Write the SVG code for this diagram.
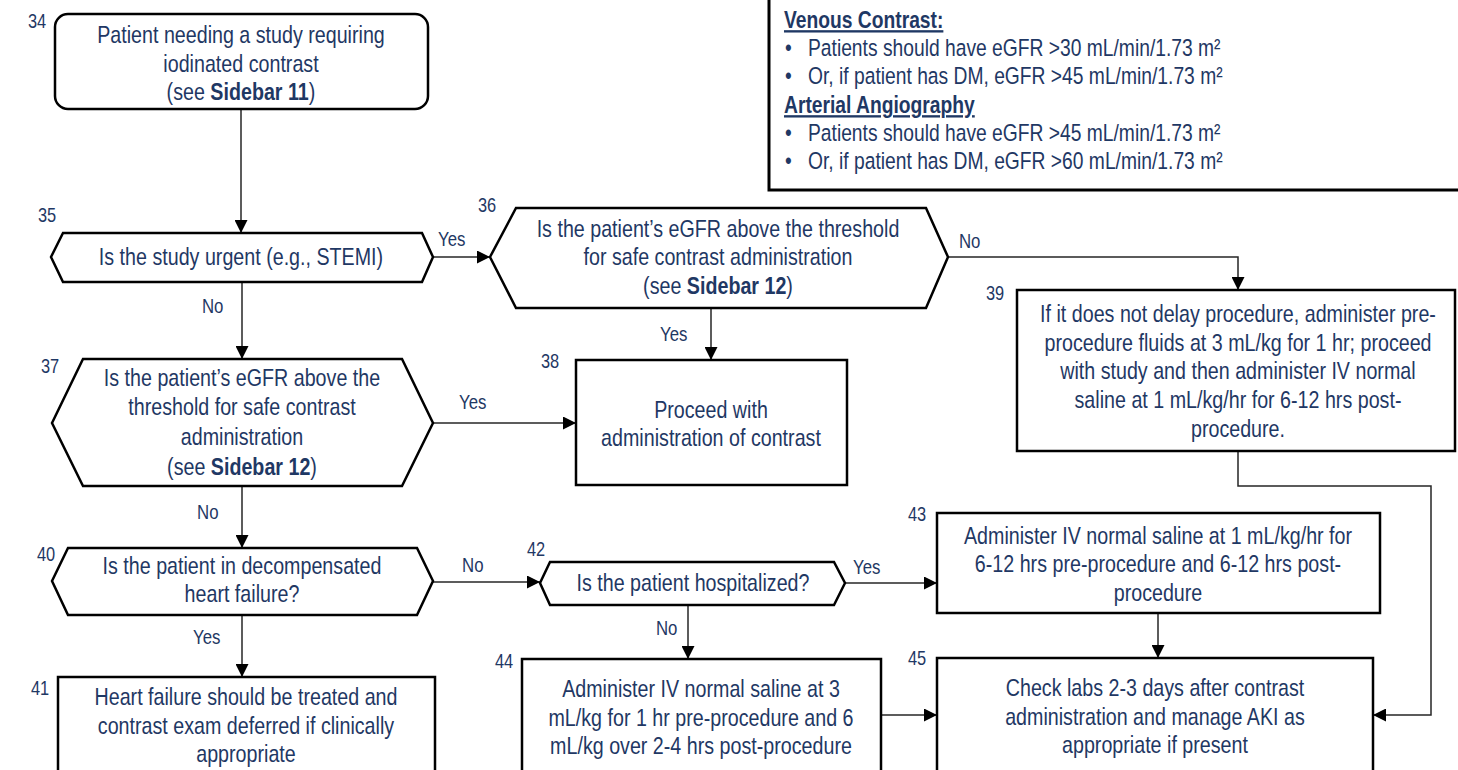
<svg xmlns="http://www.w3.org/2000/svg" width="1458" height="770" viewBox="0 0 1458 770">
  <style>
    .box { fill: #ffffff; stroke: #000000; stroke-width: 2.5; }
    .side { fill: #ffffff; stroke: #000000; stroke-width: 3; }
    .conn { fill: none; stroke: #262626; stroke-width: 1.5; }
    .arrow { marker-end: url(#head); }
    text { font-family: "Liberation Sans Narrow", "Liberation Sans", Arial, sans-serif; fill: #1f3864;
           transform-box: fill-box; transform: scaleX(0.82); }
    .t { font-size: 24px; text-anchor: middle; transform-origin: center; }
    .n { font-size: 20px; transform-origin: left center; }
    .l { font-size: 20.5px; transform-origin: left center; }
    .s { font-size: 23.5px; transform-origin: left center; }
    .h { font-size: 23.5px; font-weight: bold; text-decoration: underline; transform-origin: left center; }
    .b { font-weight: bold; }
  </style>
  <defs>
    <marker id="head" markerUnits="userSpaceOnUse" markerWidth="13" markerHeight="13" refX="13" refY="6.5" orient="auto">
      <path d="M0,0 L13,6.5 L0,13 Z" fill="#000000"/>
    </marker>
  </defs>

  <rect width="1458" height="770" fill="#ffffff"/>

  <!-- Sidebar 12: eGFR thresholds -->
  <g id="sidebar">
    <rect class="side" x="769" y="-10" width="700" height="200"/>
    <text class="h" x="784" y="28">Venous Contrast:</text>
    <text class="s" x="785" y="56">•</text>
    <text class="s" x="808" y="56">Patients should have eGFR &gt;30 mL/min/1.73 m²</text>
    <text class="s" x="785" y="84">•</text>
    <text class="s" x="808" y="84">Or, if patient has DM, eGFR &gt;45 mL/min/1.73 m²</text>
    <text class="h" x="784" y="113">Arterial Angiography</text>
    <text class="s" x="785" y="141">•</text>
    <text class="s" x="808" y="141">Patients should have eGFR &gt;45 mL/min/1.73 m²</text>
    <text class="s" x="785" y="169">•</text>
    <text class="s" x="808" y="169">Or, if patient has DM, eGFR &gt;60 mL/min/1.73 m²</text>
  </g>

  <!-- connectors -->
  <g id="connectors">
    <path class="conn arrow" d="M241,109 V233"/>
    <path class="conn arrow" d="M433,257 H490"/>
    <path class="conn arrow" d="M242,282 V359"/>
    <path class="conn arrow" d="M711,308 V360"/>
    <path class="conn arrow" d="M948,257 H1238 V290"/>
    <path class="conn arrow" d="M433,423 H576"/>
    <path class="conn arrow" d="M242,486 V548"/>
    <path class="conn arrow" d="M433,582 H540"/>
    <path class="conn arrow" d="M242,615 V677"/>
    <path class="conn arrow" d="M845,583 H937"/>
    <path class="conn arrow" d="M688,605 V659"/>
    <path class="conn arrow" d="M1158,613 V658"/>
    <path class="conn arrow" d="M881,715 H937"/>
    <path class="conn arrow" d="M1238,451 V486 H1431 V715 H1373"/>
    <text class="l" x="438" y="246">Yes</text>
    <text class="l" x="202" y="313">No</text>
    <text class="l" x="660" y="341">Yes</text>
    <text class="l" x="959" y="248">No</text>
    <text class="l" x="459" y="409">Yes</text>
    <text class="l" x="197" y="519">No</text>
    <text class="l" x="462" y="572">No</text>
    <text class="l" x="853" y="574">Yes</text>
    <text class="l" x="193" y="644">Yes</text>
    <text class="l" x="656" y="635">No</text>
  </g>

  <g id="node34">
    <rect class="box" x="55" y="14" width="373" height="95" rx="13"/>
    <text class="n" x="28" y="28">34</text>
    <text class="t" x="241" y="43">Patient needing a study requiring</text>
    <text class="t" x="241" y="72">iodinated contrast</text>
    <text class="t" x="241" y="100">(see <tspan class="b">Sidebar 11</tspan>)</text>
  </g>

  <g id="node35">
    <polygon class="box" points="51,257 63,233 422,233 433,257 422,282 63,282"/>
    <text class="n" x="38" y="222">35</text>
    <text class="t" x="241" y="265">Is the study urgent (e.g., STEMI)</text>
  </g>

  <g id="node36">
    <polygon class="box" points="490,257 516,208 926,208 948,257 926,308 516,308"/>
    <text class="n" x="478" y="212">36</text>
    <text class="t" x="718" y="237">Is the patient’s eGFR above the threshold</text>
    <text class="t" x="718" y="265">for safe contrast administration</text>
    <text class="t" x="718" y="294">(see <tspan class="b">Sidebar 12</tspan>)</text>
  </g>

  <g id="node37">
    <polygon class="box" points="52,423 83,359 402,359 433,423 402,486 83,486"/>
    <text class="n" x="41" y="373">37</text>
    <text class="t" x="242" y="386">Is the patient’s eGFR above the</text>
    <text class="t" x="242" y="415">threshold for safe contrast</text>
    <text class="t" x="242" y="445">administration</text>
    <text class="t" x="242" y="475">(see <tspan class="b">Sidebar 12</tspan>)</text>
  </g>

  <g id="node38">
    <rect class="box" x="576" y="360" width="271" height="125"/>
    <text class="n" x="541" y="368">38</text>
    <text class="t" x="711" y="418">Proceed with</text>
    <text class="t" x="711" y="446">administration of contrast</text>
  </g>

  <g id="node39">
    <rect class="box" x="1017" y="290" width="438" height="161"/>
    <text class="n" x="986" y="300">39</text>
    <text class="t" x="1238" y="322">If it does not delay procedure, administer pre-</text>
    <text class="t" x="1238" y="351">procedure fluids at 3 mL/kg for 1 hr; proceed</text>
    <text class="t" x="1238" y="379">with study and then administer IV normal</text>
    <text class="t" x="1238" y="408">saline at 1 mL/kg/hr for 6-12 hrs post-</text>
    <text class="t" x="1238" y="437">procedure.</text>
  </g>

  <g id="node40">
    <polygon class="box" points="52,581 68,548 417,548 433,581 417,615 68,615"/>
    <text class="n" x="37" y="561">40</text>
    <text class="t" x="242" y="574">Is the patient in decompensated</text>
    <text class="t" x="242" y="602">heart failure?</text>
  </g>

  <g id="node41">
    <rect class="box" x="58" y="677" width="377" height="110"/>
    <text class="n" x="31" y="695">41</text>
    <text class="t" x="246" y="705">Heart failure should be treated and</text>
    <text class="t" x="246" y="734">contrast exam deferred if clinically</text>
    <text class="t" x="246" y="762">appropriate</text>
  </g>

  <g id="node42">
    <polygon class="box" points="540,583 550,562 834,562 845,583 834,605 550,605"/>
    <text class="n" x="527" y="556">42</text>
    <text class="t" x="693" y="591">Is the patient hospitalized?</text>
  </g>

  <g id="node43">
    <rect class="box" x="937" y="513" width="443" height="100"/>
    <text class="n" x="908" y="521">43</text>
    <text class="t" x="1158" y="544">Administer IV normal saline at 1 mL/kg/hr for</text>
    <text class="t" x="1158" y="572">6-12 hrs pre-procedure and 6-12 hrs post-</text>
    <text class="t" x="1158" y="601">procedure</text>
  </g>

  <g id="node44">
    <rect class="box" x="522" y="659" width="359" height="130"/>
    <text class="n" x="495" y="668">44</text>
    <text class="t" x="701" y="697">Administer IV normal saline at 3</text>
    <text class="t" x="701" y="726">mL/kg for 1 hr pre-procedure and 6</text>
    <text class="t" x="701" y="754">mL/kg over 2-4 hrs post-procedure</text>
  </g>

  <g id="node45">
    <rect class="box" x="937" y="658" width="436" height="130"/>
    <text class="n" x="908" y="665">45</text>
    <text class="t" x="1155" y="696">Check labs 2-3 days after contrast</text>
    <text class="t" x="1155" y="725">administration and manage AKI as</text>
    <text class="t" x="1155" y="753">appropriate if present</text>
  </g>
</svg>
